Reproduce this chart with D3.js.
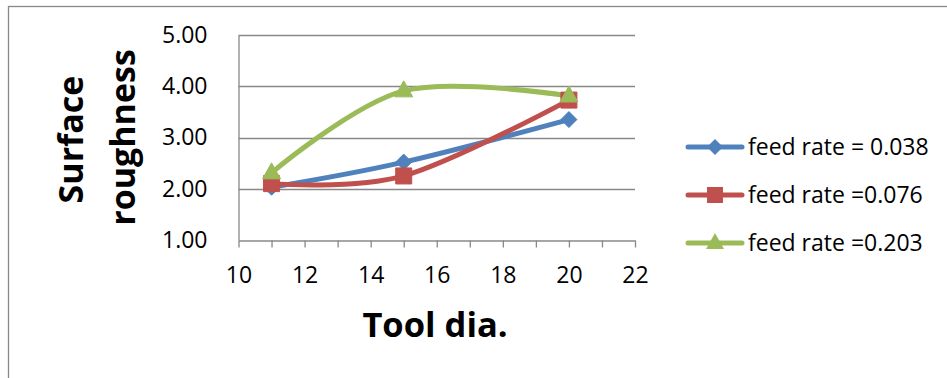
<!DOCTYPE html>
<html>
<head>
<meta charset="utf-8">
<script src="https://cdn.jsdelivr.net/npm/d3@7"></script>
<style>
  html, body { margin: 0; padding: 0; background: #fff; }
  svg { display: block; font-family: "Open Sans", Lato, sans-serif; }
</style>
</head>
<body>
<svg id="chart" width="947" height="378"></svg>
<script>
// Tool diameter (mm) on the x axis
const toolDia = [11, 15, 20];
// Surface roughness for each feed rate
const feed038 = [2.03, 2.52, 3.35];
const feed076 = [2.10, 2.25, 3.73];
const feed203 = [2.31, 3.91, 3.81];
const seriesNames = ["feed rate = 0.038", "feed rate =0.076", "feed rate =0.203"];
const seriesColors = ["#4F81BD", "#C0504D", "#9BBB59"];
const markerShapes = ["diamond", "square", "triangle"];
const yTicks = [1, 2, 3, 4, 5];
const xLabelTicks = [10, 12, 14, 16, 18, 20, 22];

const series = [feed038, feed076, feed203].map((vals, i) => ({
  name: seriesNames[i], color: seriesColors[i], shape: markerShapes[i],
  points: toolDia.map((d, j) => ({ x: d, y: vals[j] }))
}));

const svg = d3.select("#chart");

// chart frame
svg.append("rect")
  .attr("x", 8.5).attr("y", 6.5).attr("width", 960).attr("height", 400)
  .attr("fill", "none").attr("stroke", "#888").attr("stroke-width", 1.3);

const x = d3.scaleLinear().domain([10, 22]).range([238.5, 635]);
const y = d3.scaleLinear().domain([1, 5]).range([240, 35]);

// horizontal gridlines
svg.append("g").selectAll("line").data(yTicks.slice(1)).join("line")
  .attr("x1", x(10)).attr("x2", x(22))
  .attr("y1", d => Math.round(y(d)) + 0.5).attr("y2", d => Math.round(y(d)) + 0.5)
  .attr("stroke", "#888").attr("stroke-width", 1.3);

// y axis
const yAxis = svg.append("g").attr("transform", `translate(${x(10)},0)`)
  .call(d3.axisLeft(y).tickValues(yTicks).tickFormat(d3.format(".2f")).tickSize(0).tickPadding(31));
yAxis.select(".domain").attr("stroke", "#888").attr("stroke-width", 1.3);
yAxis.selectAll("text").attr("font-size", 23).attr("fill", "#000")
  .attr("font-family", "'Open Sans', sans-serif");

// x axis with unit tick marks, labels every 2
const xAxis = svg.append("g").attr("transform", `translate(0,${Math.round(y(1)) + 0.5})`)
  .call(d3.axisBottom(x).tickValues(d3.range(10, 23, 1)).tickSize(7).tickSizeOuter(0)
    .tickFormat(d => xLabelTicks.includes(d) ? d : ""));
xAxis.select(".domain").attr("stroke", "#888").attr("stroke-width", 1.3);
xAxis.selectAll(".tick line").attr("stroke", "#888").attr("stroke-width", 1.3);
xAxis.selectAll("text").attr("font-size", 23).attr("fill", "#000")
  .attr("y", 0).attr("dy", 0).attr("transform", "translate(0,42)")
  .attr("font-family", "'Open Sans', sans-serif");

// axis titles
svg.append("text").attr("x", 435).attr("y", 337).attr("text-anchor", "middle")
  .attr("font-size", 34.5).attr("font-weight", "bold").text("Tool dia.");
const yTitle = svg.append("text").attr("transform", "rotate(-90)")
  .attr("font-size", 34).attr("font-weight", "bold").attr("text-anchor", "middle");
yTitle.append("tspan").text("Surface").attr("x", -139.5).attr("y", 83);
yTitle.append("tspan").text("roughness").attr("x", -137.5).attr("y", 135);

// smoothed series lines
const line = d3.line().x(d => x(d.x)).y(d => y(d.y)).curve(d3.curveCardinal.tension(0));
svg.append("g").selectAll("path").data(series).join("path")
  .attr("d", d => line(d.points))
  .attr("fill", "none").attr("stroke", d => d.color).attr("stroke-width", 5)
  .attr("stroke-linecap", "round").attr("stroke-linejoin", "round");

function markerPath(shape) {
  if (shape === "diamond") return "M0,-8L8,0L0,8L-8,0Z";
  if (shape === "square") return "M-8,-8H8V8H-8Z";
  return "M0,-10L9,6H-9Z";
}

svg.append("g").selectAll("g").data(series).join("g")
  .selectAll("path").data(d => d.points.map(p => ({ ...p, s: d }))).join("path")
  .attr("transform", d => `translate(${x(d.x)},${y(d.y)})`)
  .attr("d", d => markerPath(d.s.shape))
  .attr("fill", d => d.s.color).attr("stroke", d => d.s.color).attr("stroke-width", 1);

// legend
const legend = svg.append("g").selectAll("g").data(series).join("g")
  .attr("transform", (d, i) => `translate(688,${147 + i * 48})`);
legend.append("line").attr("x1", 0).attr("x2", 54)
  .attr("stroke", d => d.color).attr("stroke-width", 5).attr("stroke-linecap", "round");
legend.append("path").attr("transform", "translate(27,0)")
  .attr("d", d => markerPath(d.shape)).attr("fill", d => d.color);
legend.append("text").attr("x", 60).attr("dy", "0.35em").attr("font-size", 23)
  .attr("fill", "#000").text(d => d.name);
</script>
</body>
</html>
